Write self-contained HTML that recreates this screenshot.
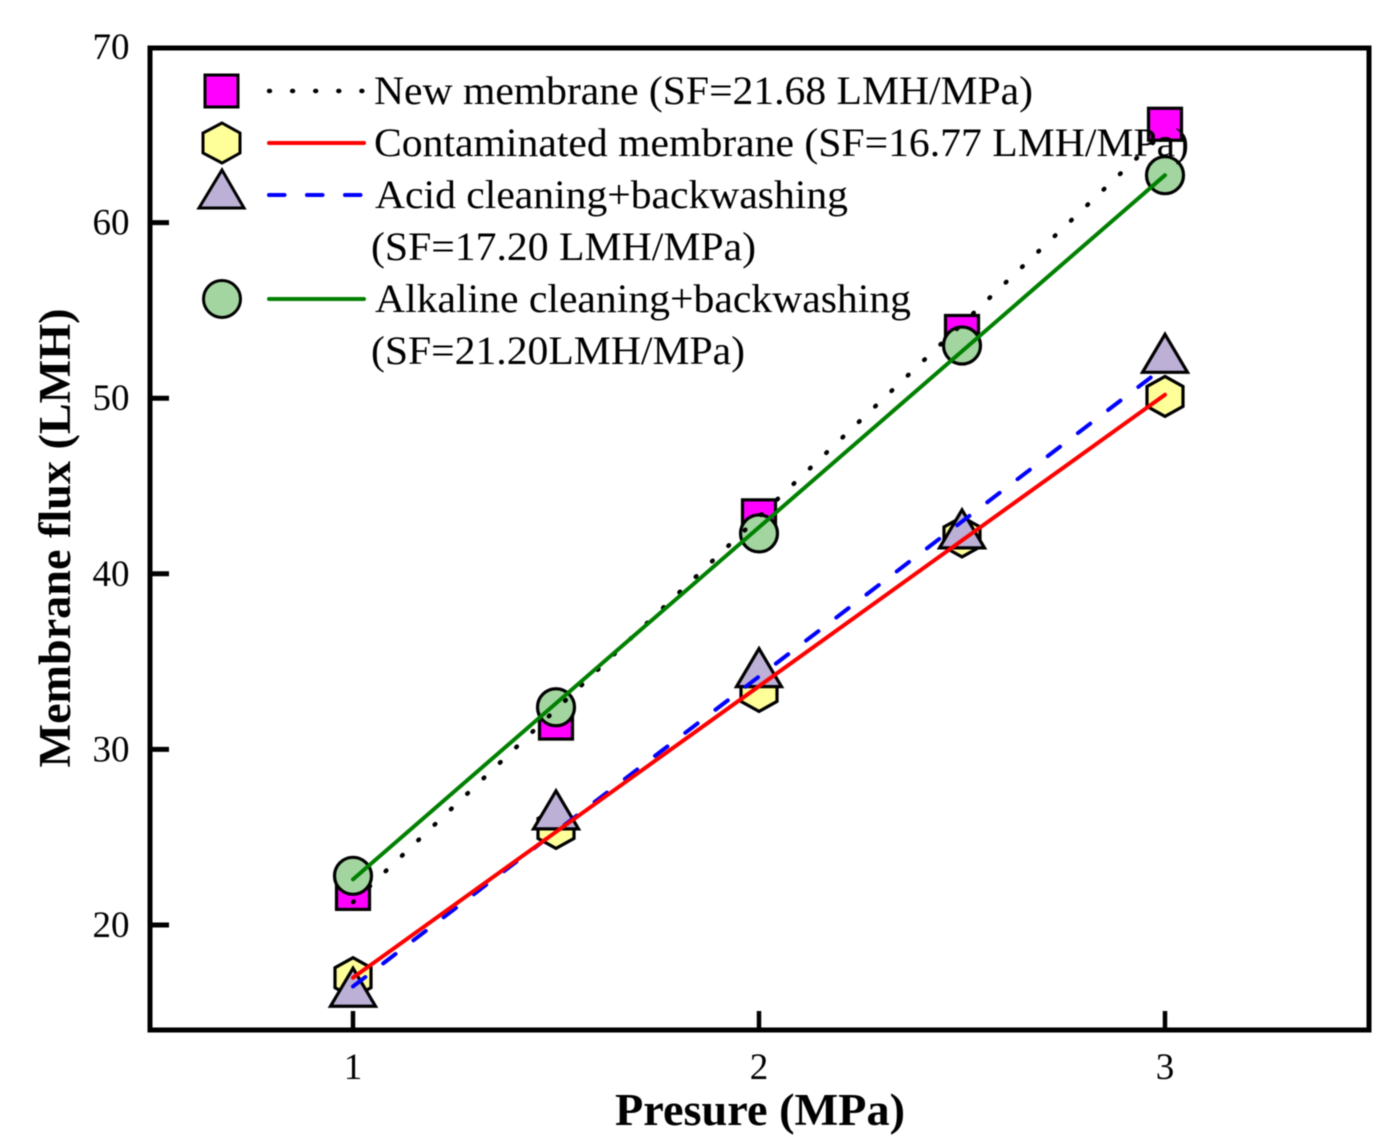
<!DOCTYPE html>
<html>
<head>
<meta charset="utf-8">
<style>
html,body{margin:0;padding:0;background:#fff;}
svg{display:block;font-family:"Liberation Serif",serif;filter:blur(0.45px);}
</style>
</head>
<body>
<svg id="chart" width="1399" height="1145" viewBox="0 0 1399 1145" xmlns="http://www.w3.org/2000/svg">
  <rect width="1399" height="1145" fill="#fff"/>
  <g id="marks"></g>
  <g id="lines"></g>
  <rect x="150" y="48" width="1219" height="982" fill="none" stroke="#000" stroke-width="5"/>
  <g id="ticks"></g>
  <text transform="translate(70,538) rotate(-90)" text-anchor="middle" font-size="45" font-weight="bold" textLength="459" lengthAdjust="spacingAndGlyphs">Membrane flux (LMH)</text>
  <text x="760" y="1125" text-anchor="middle" font-size="45" font-weight="bold" textLength="290" lengthAdjust="spacingAndGlyphs">Presure (MPa)</text>
  <g font-size="40">
    <g>
      <rect x="205" y="75" width="33" height="32" fill="#ff00ff" stroke="#000" stroke-width="3"/>
      <line x1="269" y1="91" x2="363" y2="91" stroke="#000" stroke-width="4.4" stroke-linecap="round" stroke-dasharray="1 22.1"/>
      <text x="374" y="104" textLength="659" lengthAdjust="spacingAndGlyphs">New membrane (SF=21.68 LMH/MPa)</text>
    </g>
    <g>
      <polygon points="222,123 240,133 240,153 222,163 203,153 203,133" fill="#ffff99" stroke="#000" stroke-width="3"/>
      <line x1="269" y1="143" x2="364" y2="143" stroke="#ff0000" stroke-width="4" stroke-linecap="round"/>
      <text x="374" y="156" textLength="815" lengthAdjust="spacingAndGlyphs">Contaminated membrane (SF=16.77 LMH/MPa)</text>
    </g>
    <g>
      <polygon points="222,170 244,208 199,208" fill="#bdb0d6" stroke="#000" stroke-width="3"/>
      <line x1="269" y1="195" x2="363" y2="195" stroke="#0000ff" stroke-width="4" stroke-linecap="round" stroke-dasharray="15.5 22.5"/>
      <text x="375" y="208" textLength="473" lengthAdjust="spacingAndGlyphs">Acid cleaning+backwashing</text>
      <text x="371" y="260" textLength="385" lengthAdjust="spacingAndGlyphs">(SF=17.20 LMH/MPa)</text>
    </g>
    <g>
      <circle cx="222" cy="299" r="18.5" fill="#a3d5a0" stroke="#000" stroke-width="3"/>
      <line x1="269" y1="299" x2="364" y2="299" stroke="#008000" stroke-width="4" stroke-linecap="round"/>
      <text x="375" y="312" textLength="536" lengthAdjust="spacingAndGlyphs">Alkaline cleaning+backwashing</text>
      <text x="371" y="364" textLength="374" lengthAdjust="spacingAndGlyphs">(SF=21.20LMH/MPa)</text>
    </g>
  </g>
</svg>
<script>
var pressures = [1, 1.5, 2, 2.5, 3];
var newMembrane = [21.8, 31.5, 43.3, 53.8, 65.6];
var contaminated = [17.0, 25.5, 33.3, 42.1, 50.1];
var acidCleaning = [16.4, 26.5, 34.6, 42.5, 52.5];
var alkalineCleaning = [22.8, 32.4, 42.3, 53.0, 62.7];
var fitX = [1, 3];
var fitNew = [21.3, 65.2];
var fitContaminated = [17.0, 50.2];
var fitAcid = [16.5, 51.8];
var fitAlkaline = [22.6, 62.7];
var xTicks = [1, 2, 3];
var yTicks = [20, 30, 40, 50, 60, 70];

var NS = 'http://www.w3.org/2000/svg';
function xScale(v) { return 353 + (v - 1) * 406; }
function yScale(v) { return 925 - (v - 20) * 17.56; }
function make(tag, attrs, parent) {
  var el = document.createElementNS(NS, tag);
  for (var k in attrs) el.setAttribute(k, attrs[k]);
  parent.appendChild(el);
  return el;
}
var marks = document.getElementById('marks');
var lines = document.getElementById('lines');
var ticks = document.getElementById('ticks');
function styled(fill, extra) {
  var a = { fill: fill, stroke: '#000', 'stroke-width': 3.2 };
  for (var k in extra) a[k] = extra[k];
  return a;
}
function pts(list) { return list.map(function (p) { return p[0] + ',' + p[1]; }).join(' '); }

newMembrane.forEach(function (v, i) {
  var x = xScale(pressures[i]), y = yScale(v);
  var el = make('rect', styled('#ff00ff', { x: x - 16.5, y: y - 16, width: 33, height: 32 }), marks);
  
  
});
contaminated.forEach(function (v, i) {
  var x = xScale(pressures[i]), y = yScale(v);
  var el = make('polygon', styled('#ffff99', { points: pts([[x, y - 20], [x + 18, y - 10], [x + 18, y + 10], [x, y + 20], [x - 18, y + 10], [x - 18, y - 10]]) }), marks);
  
  
});
acidCleaning.forEach(function (v, i) {
  var x = xScale(pressures[i]), y = yScale(v);
  var el = make('polygon', styled('#bdb0d6', { points: pts([[x, y - 20], [x + 22.5, y + 18], [x - 22.5, y + 18]]) }), marks);
  
  
});
alkalineCleaning.forEach(function (v, i) {
  var x = xScale(pressures[i]), y = yScale(v);
  var el = make('circle', styled('#a3d5a0', { cx: x, cy: y, r: 18.5 }), marks);
  
  
});

function fitLine(values, color, dash) {
  var a = { x1: xScale(fitX[0]), y1: yScale(values[0]), x2: xScale(fitX[1]), y2: yScale(values[1]), stroke: color, 'stroke-width': 4, 'stroke-linecap': 'round' };
  if (dash) a['stroke-dasharray'] = dash;
  return make('line', a, lines);
}
var lineNew = fitLine(fitNew, '#000', '1 21.5');
lineNew.setAttribute('stroke-width', '4.4');


var lineAcid = fitLine(fitAcid, '#0000ff', '15.5 22.5');


var lineCont = fitLine(fitContaminated, '#ff0000');


var lineAlk = fitLine(fitAlkaline, '#008000');



xTicks.forEach(function (v) {
  var x = xScale(v);
  var t = make('line', { x1: x, y1: 1030, x2: x, y2: 1011, stroke: '#000', 'stroke-width': 4.5 }, ticks);
  
  
  var l = make('text', { x: x, y: 1079, 'text-anchor': 'middle', 'font-size': 37 }, ticks);
  l.textContent = v;
  
  
});
yTicks.forEach(function (v) {
  var y = yScale(v);
  if (v < 70) {
    var t = make('line', { x1: 150, y1: y, x2: 169, y2: y, stroke: '#000', 'stroke-width': 5 }, ticks);
    
    
  }
  var l = make('text', { x: 129.5, y: y + 12, 'text-anchor': 'end', 'font-size': 37 }, ticks);
  l.textContent = v;
  
  
});
</script>
</body>
</html>
